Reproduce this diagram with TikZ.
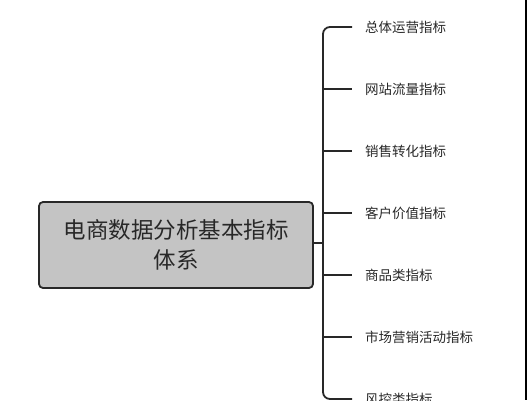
\documentclass[tikz,border=0pt]{standalone}
\usepackage{fontspec}
\setmainfont{Noto Sans CJK SC}
\usepackage{tikz}
\usetikzlibrary{calc,positioning}
\definecolor{boxgray}{RGB}{196,196,196}
\definecolor{inkgray}{RGB}{40,40,40}
\tikzset{root/.style={draw=inkgray,fill=boxgray,rounded corners=4pt,line width=1.8pt,minimum width=274pt,minimum height=86pt,align=center,text=inkgray,font=\fontsize{22.5}{30}\selectfont},leaf/.style={anchor=west,inner xsep=13pt,inner ysep=2pt,text=inkgray,font=\fontsize{13.5}{16}\selectfont}}

\begin{document}
\begin{tikzpicture}[x=1pt,y=-1pt,br/.style={draw=inkgray,line width=1.8pt}]
	\useasboundingbox (0,0) rectangle (527,400);
	\node[root] (r) at (176,245) {电商数据分析基本指标\\体系};

	\coordinate (j1) at (323,27);
	\coordinate (j2) at (323,89);
	\coordinate (j3) at (323,151);
	\coordinate (j4) at (323,213);
	\coordinate (j5) at (323,275);
	\coordinate (j6) at (323,337);
	\coordinate (j7) at (323,399);

	\node[leaf] (v1) at (352,27) {总体运营指标};
	\node[leaf] (v2) at (352,89) {网站流量指标};
	\node[leaf] (v3) at (352,151) {销售转化指标};
	\node[leaf] (v4) at (352,213) {客户价值指标};
	\node[leaf] (v5) at (352,275) {商品类指标};
	\node[leaf] (v6) at (352,337) {市场营销活动指标};
	\node[leaf] (v7) at (352,399) {风控类指标};

	\draw[br,rounded corners=7pt] (v1.west) -- (j1) -- (j7) -- (v7.west);
	\draw[br] (j2) -- (v2);
	\draw[br] (j3) -- (v3);
	\draw[br] (j4) -- (v4);
	\draw[br] (j5) -- (v5);
	\draw[br] (j6) -- (v6);
	\draw[br] (r.east |- 0,243) -- (j1 |- 0,243);

	\draw[line width=2pt] (526,0) -- (526,400);
\end{tikzpicture}
\end{document}
